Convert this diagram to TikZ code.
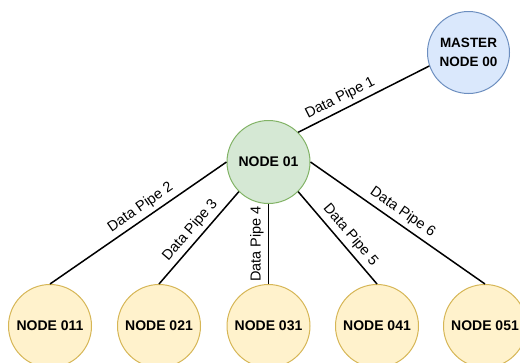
\documentclass[tikz,border=0pt]{standalone}
\usepackage{fontspec}
\setmainfont{Liberation Sans}
\definecolor{blueFill}{HTML}{DAE8FC}
\definecolor{blueLine}{HTML}{6C8EBF}
\definecolor{greenFill}{HTML}{D5E8D4}
\definecolor{greenLine}{HTML}{82B366}
\definecolor{yellowFill}{HTML}{FFF2CC}
\definecolor{yellowLine}{HTML}{D6B656}
\tikzset{
  netnode/.style={circle, minimum size=83pt, inner sep=0pt, line width=1pt,
    font=\fontsize{14}{17}\selectfont\bfseries, align=center},
  master/.style={netnode, minimum size=82pt, fill=blueFill, draw=blueLine,
    font=\fontsize{13.5}{19}\selectfont\bfseries},
  hub/.style={netnode, fill=greenFill, draw=greenLine},
  leaf/.style={netnode, fill=yellowFill, draw=yellowLine},
  pipe/.style={draw=black, line width=1.5pt},
  pipelabel/.style={font=\fontsize{14.5}{16}\selectfont, anchor=south, inner sep=4pt}
}
\begin{document}
\begin{tikzpicture}[x=1pt, y=-1pt]
  \useasboundingbox (0,0) rectangle (520,362);
  \clip (0,0) rectangle (520,362);

  % nodes
  \node[master] (m)   at (468.5,52.5) {MASTER\\NODE 00};
  \node[hub]    (n01) at (268.5,162)  {NODE 01};
  \node[leaf]   (n011) at (50,326)    {NODE 011};
  \node[leaf]   (n021) at (159,326)   {NODE 021};
  \node[leaf]   (n031) at (268.5,326) {NODE 031};
  \node[leaf]   (n041) at (377,326)   {NODE 041};
  \node[leaf]   (n051) at (485,326)   {NODE 051};

  % data pipes
  \draw[pipe] (n01.45)  -- node[pipelabel, sloped, pos=0.36] {Data Pipe 1} (m.199);
  \draw[pipe] (n01.180) -- node[pipelabel, sloped, pos=0.45] {Data Pipe 2} (n011.90);
  \draw[pipe] (n01.225) -- node[pipelabel, sloped, pos=0.50] {Data Pipe 3} (n021.90);
  \draw[pipe] (n01.270) -- node[pipelabel, rotate=90, pos=0.50] {Data Pipe 4} (n031.90);
  \draw[pipe] (n01.-45) -- node[pipelabel, sloped, pos=0.55] {Data Pipe 5} (n041.90);
  \draw[pipe] (n01.0)   -- node[pipelabel, sloped, pos=0.49] {Data Pipe 6} (n051.90);
\end{tikzpicture}
\end{document}
